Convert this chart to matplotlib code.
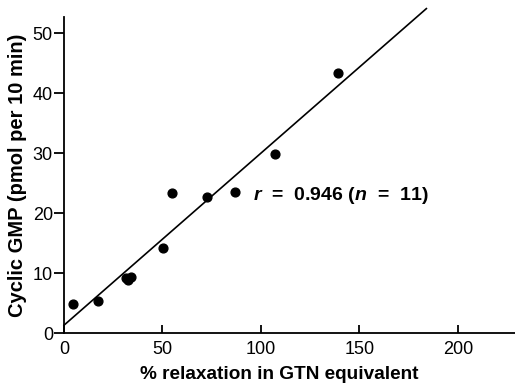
import matplotlib
matplotlib.use("Agg")
import matplotlib.pyplot as plt

# Data
relax = [4.4, 17.4, 31.5, 32.5, 34.0, 50.4, 54.7, 72.4, 86.8, 107.1, 138.9]
cgmp = [4.8, 5.3, 9.2, 8.9, 9.3, 14.2, 23.4, 22.7, 23.5, 29.9, 43.4]
line_x = [0, 184]
line_y = [1.3, 54.1]
xticks = [0, 50, 100, 150, 200]
yticks = [0, 10, 20, 30, 40, 50]

plt.rcParams['font.family'] = ['Liberation Sans', 'DejaVu Sans']
plt.rcParams['mathtext.fontset'] = 'custom'
plt.rcParams['mathtext.it'] = 'Liberation Sans:italic:bold'
plt.rcParams['mathtext.rm'] = 'Liberation Sans:bold'

fig = plt.figure(figsize=(5.15, 3.88), dpi=100)
ax = fig.add_axes([64/515, 1-333/388, (515-64)/515, (333-17)/388])

ax.scatter(relax, cgmp, s=40, color='black', zorder=3, clip_on=False)
ax.plot(line_x, line_y, color='black', lw=1.2, clip_on=False)

ax.set_xlim(0, 229)
ax.set_ylim(0, 52.7)
ax.set_xticks(xticks)
ax.set_yticks(yticks)
ax.spines['top'].set_visible(False)
ax.spines['right'].set_visible(False)
for s in ['left', 'bottom']:
    ax.spines[s].set_linewidth(1.3)
ax.tick_params(axis='y', direction='out', length=7, width=1.3, labelsize=13, pad=1)
ax.tick_params(axis='x', direction='in', length=6, width=1.3, labelsize=13, pad=6)

ax.set_xlabel('% relaxation in GTN equivalent', fontsize=13.7, fontweight='bold', labelpad=5)
ax.xaxis.set_label_coords(0.477, -0.105)
ax.set_ylabel('Cyclic GMP (pmol per 10 min)', fontsize=14.5, fontweight='bold', labelpad=4)

ax.text(96, 23.0, r'$r$  =  0.946 ($n$  =  11)', fontsize=14, fontweight='bold', va='center', ha='left')

fig.savefig('out.png', dpi=100)
